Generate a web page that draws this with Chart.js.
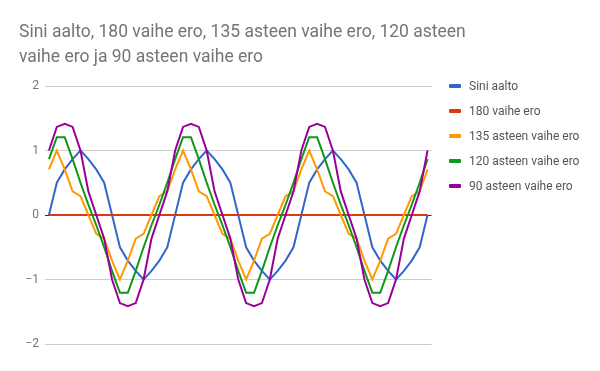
<!DOCTYPE html>
<html lang="fi">
<head>
    <meta charset="UTF-8">
    <title>Sini aalto</title>
    <style>
        body {
            margin: 0;
            background-color: #fff;
            font-family: Roboto, Arial, sans-serif;
        }
        #wrap {
            position: relative;
            width: 600px;
            height: 371px;
            overflow: hidden;
        }
        #chart-title {
            position: absolute;
            left: 19px;
            top: 19px;
            font-size: 17.5px;
            line-height: 25px;
            color: #757575;
        }
        #legend {
            position: absolute;
            left: 449px;
            top: 76px;
        }
        .legend-item {
            height: 25px;
            line-height: 20px;
            font-size: 12px;
            color: #555;
            white-space: nowrap;
        }
        .legend-item span {
            display: inline-block;
            width: 12px;
            height: 4px;
            border-radius: 1px;
            margin-right: 8px;
            vertical-align: middle;
            position: relative;
            top: -1px;
        }
        canvas {
            position: absolute;
            left: 0;
            top: 0;
        }
    </style>
    <script src="https://cdn.jsdelivr.net/npm/chart.js"></script>
    <script>
        // angles in degrees, one category per row of the sheet
        const angles = [
            0, 30, 45, 60, 90, 120, 135, 150, 180, 210, 225, 240, 270, 300, 315, 330,
            360, 390, 405, 420, 450, 480, 495, 510, 540, 570, 585, 600, 630, 660, 675, 690,
            720, 750, 765, 780, 810, 840, 855, 870, 900, 930, 945, 960, 990, 1020, 1035, 1050,
            1080
        ];

        const sini = [
            0, 0.5, 0.707, 0.866, 1, 0.866, 0.707, 0.5, 0, -0.5, -0.707, -0.866, -1, -0.866, -0.707, -0.5,
            0, 0.5, 0.707, 0.866, 1, 0.866, 0.707, 0.5, 0, -0.5, -0.707, -0.866, -1, -0.866, -0.707, -0.5,
            0, 0.5, 0.707, 0.866, 1, 0.866, 0.707, 0.5, 0, -0.5, -0.707, -0.866, -1, -0.866, -0.707, -0.5,
            0
        ];

        const ero180 = [
            0, 0, 0, 0, 0, 0, 0, 0, 0, 0, 0, 0, 0, 0, 0, 0,
            0, 0, 0, 0, 0, 0, 0, 0, 0, 0, 0, 0, 0, 0, 0, 0,
            0, 0, 0, 0, 0, 0, 0, 0, 0, 0, 0, 0, 0, 0, 0, 0,
            0
        ];

        const ero135 = [
            0.707, 1, 0.707, 0.366, 0.293, 0, -0.293, -0.366, -0.707, -1, -0.707, -0.366, -0.293, 0, 0.293, 0.366,
            0.707, 1, 0.707, 0.366, 0.293, 0, -0.293, -0.366, -0.707, -1, -0.707, -0.366, -0.293, 0, 0.293, 0.366,
            0.707, 1, 0.707, 0.366, 0.293, 0, -0.293, -0.366, -0.707, -1, -0.707, -0.366, -0.293, 0, 0.293, 0.366,
            0.707
        ];

        const ero120 = [
            0.866, 1.207, 1.207, 0.866, 0.5, 0.159, -0.159, -0.5, -0.866, -1.207, -1.207, -0.866, -0.5, -0.159, 0.159, 0.5,
            0.866, 1.207, 1.207, 0.866, 0.5, 0.159, -0.159, -0.5, -0.866, -1.207, -1.207, -0.866, -0.5, -0.159, 0.159, 0.5,
            0.866, 1.207, 1.207, 0.866, 0.5, 0.159, -0.159, -0.5, -0.866, -1.207, -1.207, -0.866, -0.5, -0.159, 0.159, 0.5,
            0.866
        ];

        const ero90 = [
            1, 1.366, 1.414, 1.366, 1, 0.366, 0, -0.366, -1, -1.366, -1.414, -1.366, -1, -0.366, 0, 0.366,
            1, 1.366, 1.414, 1.366, 1, 0.366, 0, -0.366, -1, -1.366, -1.414, -1.366, -1, -0.366, 0, 0.366,
            1, 1.366, 1.414, 1.366, 1, 0.366, 0, -0.366, -1, -1.366, -1.414, -1.366, -1, -0.366, 0, 0.366,
            1
        ];

        const seriesNames = ['Sini aalto', '180 vaihe ero', '135 asteen vaihe ero', '120 asteen vaihe ero', '90 asteen vaihe ero'];
        const seriesColors = ['#3366cc', '#dc3912', '#ff9900', '#109618', '#990099'];
        const yTicks = [-2, -1, 0, 1, 2];

        window.onload = function() {
            const allSeries = [sini, ero180, ero135, ero120, ero90];

            // legend on the right
            const legend = document.getElementById('legend');
            seriesNames.forEach((name, i) => {
                const item = document.createElement('div');
                item.className = 'legend-item';
                item.innerHTML = '<span style="background:' + seriesColors[i] + '"></span>' + name;
                legend.appendChild(item);
            });

            const ctx = document.getElementById('wave-chart').getContext('2d');
            new Chart(ctx, {
                type: 'line',
                data: {
                    labels: angles,
                    datasets: allSeries.map((values, i) => ({
                        label: seriesNames[i],
                        data: values,
                        borderColor: seriesColors[i],
                        backgroundColor: seriesColors[i],
                        borderWidth: 2,
                        pointRadius: 0,
                        tension: 0,
                        fill: false,
                        order: allSeries.length - i // later series drawn on top
                    }))
                },
                options: {
                    responsive: false,
                    animation: false,
                    layout: {
                        padding: { left: 0, top: 86, right: 168.5, bottom: 27 }
                    },
                    plugins: {
                        legend: { display: false },
                        title: { display: false },
                        tooltip: { enabled: false }
                    },
                    scales: {
                        x: {
                            type: 'category',
                            display: false,
                            offset: true
                        },
                        y: {
                            min: -2,
                            max: 2,
                            afterFit: function(scale) {
                                scale.width = 45;
                            },
                            afterBuildTicks: function(scale) {
                                scale.ticks = yTicks.map(v => ({ value: v }));
                            },
                            border: { display: false },
                            grid: {
                                drawTicks: false,
                                lineWidth: 1,
                                color: function(c) {
                                    return c.tick && c.tick.value === 0 ? '#333333' : '#cccccc';
                                }
                            },
                            ticks: {
                                padding: 6,
                                color: '#757575',
                                font: { family: 'Roboto', size: 12 },
                                callback: function(value) {
                                    return String(value).replace('-', '\u2212');
                                }
                            }
                        }
                    }
                }
            });
        }
    </script>
</head>
<body>
    <div id="wrap">
        <canvas id="wave-chart" width="600" height="371"></canvas>
        <div id="chart-title">Sini aalto, 180 vaihe ero, 135 asteen vaihe ero, 120 asteen<br>vaihe ero ja 90 asteen vaihe ero</div>
        <div id="legend"></div>
    </div>
</body>
</html>
